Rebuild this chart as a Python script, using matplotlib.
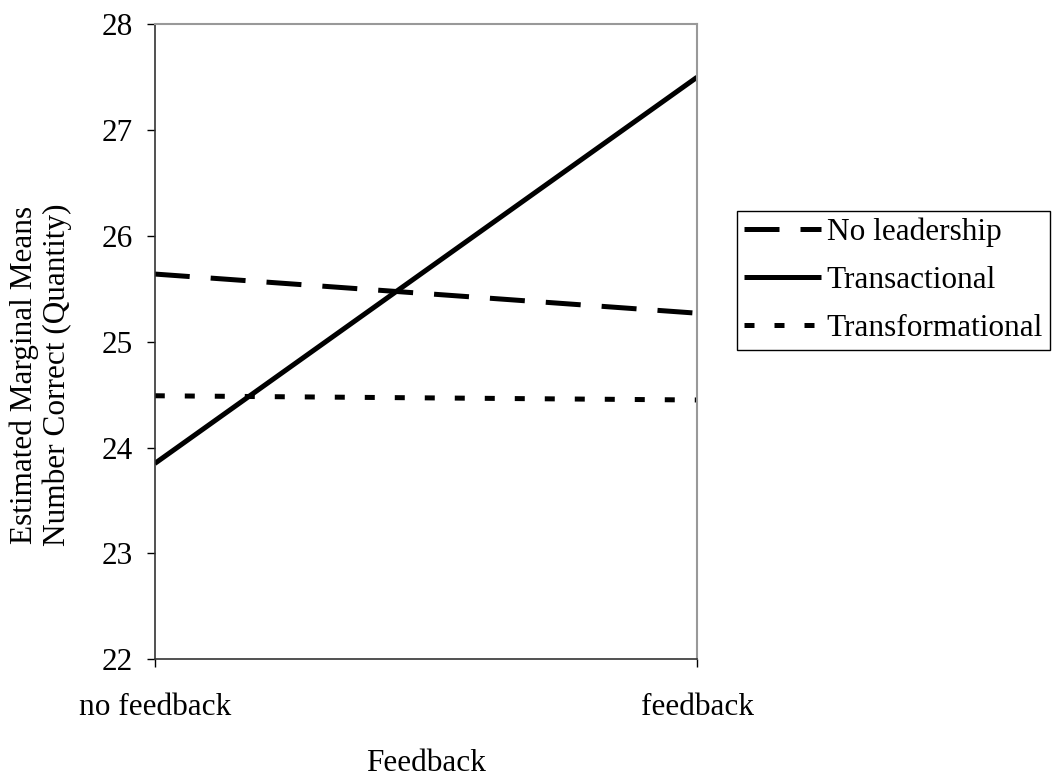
import matplotlib.pyplot as plt

# estimated marginal means
groups = ['no feedback', 'feedback']
no_leadership = [25.64, 25.27]
transactional = [23.85, 27.50]
transformational = [24.49, 24.45]

plt.rcParams['font.family'] = 'Liberation Serif'
plt.rcParams['font.size'] = 22.5

fig = plt.figure(figsize=(10.53, 7.83), dpi=100)
ax = fig.add_axes([0.147, 0.158, 0.515, 0.811])

x = list(range(len(groups)))
ax.plot(x, no_leadership, color='black', lw=3.6, linestyle=(0, (7, 4.2)),
        dash_capstyle='butt', label='No leadership')
ax.plot(x, transactional, color='black', lw=3.6, solid_capstyle='butt',
        label='Transactional')
ax.plot(x, transformational, color='black', lw=3.6, linestyle=(0, (2, 4)),
        dash_capstyle='butt', label='Transformational')

ax.set_xlim(0, 1)
ax.set_ylim(22, 28)
ax.set_xticks(x)
ax.set_xticklabels(groups)
ax.set_yticks(range(22, 29))

ax.tick_params(axis='y', direction='out', length=6, width=1, pad=10)
ax.tick_params(axis='x', direction='out', length=6, width=1, pad=18)

for s in ['left', 'bottom']:
    ax.spines[s].set_color('#333333')
    ax.spines[s].set_linewidth(1.2)
for s in ['top', 'right']:
    ax.spines[s].set_color('#999999')
    ax.spines[s].set_linewidth(1.5)

# y label sits a bit below the axes centre in the original
fig.text(0.039, 0.521, 'Estimated Marginal Means\nNumber Correct (Quantity)',
         rotation=90, ha='center', va='center', linespacing=1.14)
ax.set_xlabel('Feedback', labelpad=20)

leg = ax.legend(loc='center left', bbox_to_anchor=(0.700, 0.642),
                bbox_transform=fig.transFigure, fancybox=False,
                edgecolor='black', framealpha=1, handlelength=2.45,
                handletextpad=0.2, labelspacing=0.6, borderpad=0.22,
                borderaxespad=0)
leg.get_frame().set_linewidth(1)

fig.savefig('out.png', dpi=100)
